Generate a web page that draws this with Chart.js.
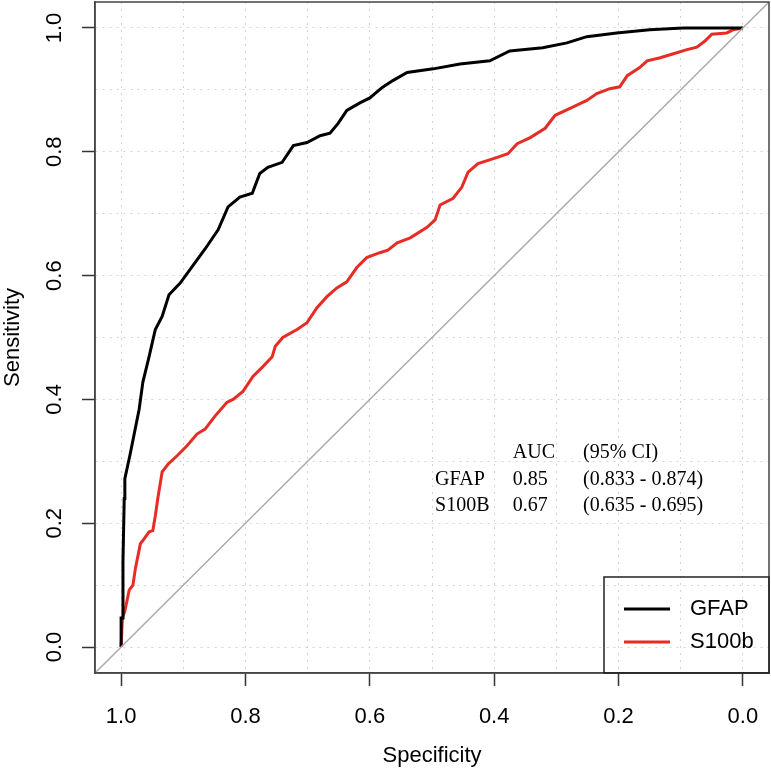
<!DOCTYPE html>
<html>
<head>
<meta charset="utf-8">
<script src="https://cdn.jsdelivr.net/npm/chart.js@4.4.0/dist/chart.umd.min.js"></script>
<style>
body { margin: 0; background: #fff; }
#wrap { width: 771px; height: 773px; }
</style>
</head>
<body>
<div id="wrap"><canvas id="roc" width="771" height="773"></canvas></div>
<script>
// values (specificity, sensitivity)
var gfapSpec = [1.0, 1.0, 0.997, 0.997, 0.995, 0.994, 0.986, 0.971, 0.965, 0.955, 0.945, 0.934, 0.923, 0.905, 0.884, 0.865,
    0.844, 0.828, 0.809, 0.789, 0.777, 0.764, 0.741, 0.723, 0.701, 0.680, 0.664, 0.651, 0.637, 0.616, 0.600, 0.580,
    0.563, 0.540, 0.498, 0.455, 0.407, 0.375, 0.322, 0.283, 0.251, 0.203, 0.150, 0.096, 0.0];
var gfapSens = [0.0, 0.047, 0.047, 0.138, 0.240, 0.272, 0.309, 0.384, 0.428, 0.469, 0.513, 0.534, 0.569, 0.588, 0.617, 0.643,
    0.674, 0.711, 0.727, 0.733, 0.765, 0.775, 0.783, 0.810, 0.815, 0.826, 0.830, 0.846, 0.867, 0.879, 0.887, 0.904,
    0.915, 0.928, 0.934, 0.942, 0.947, 0.963, 0.968, 0.976, 0.986, 0.992, 0.997, 1.0, 1.0];

var s100Spec = [1.0, 0.998, 0.994, 0.987, 0.981, 0.977, 0.969, 0.965, 0.955, 0.949, 0.945, 0.941, 0.934, 0.924, 0.910, 0.894,
    0.878, 0.865, 0.849, 0.830, 0.820, 0.804, 0.788, 0.772, 0.757, 0.752, 0.740, 0.717, 0.701, 0.685, 0.669, 0.653,
    0.637, 0.621, 0.605, 0.584, 0.571, 0.556, 0.535, 0.508, 0.495, 0.487, 0.466, 0.452, 0.442, 0.426, 0.395, 0.378,
    0.363, 0.342, 0.318, 0.302, 0.278, 0.251, 0.235, 0.214, 0.198, 0.186, 0.166, 0.154, 0.133, 0.113, 0.090, 0.074,
    0.061, 0.050, 0.026, 0.016, 0.0];
var s100Sens = [0.0, 0.047, 0.058, 0.092, 0.100, 0.127, 0.167, 0.172, 0.186, 0.188, 0.212, 0.240, 0.283, 0.296, 0.309, 0.325,
    0.344, 0.352, 0.373, 0.395, 0.400, 0.413, 0.437, 0.453, 0.469, 0.486, 0.500, 0.513, 0.524, 0.548, 0.566, 0.580,
    0.590, 0.613, 0.629, 0.637, 0.641, 0.653, 0.661, 0.678, 0.690, 0.714, 0.725, 0.743, 0.767, 0.781, 0.791, 0.797,
    0.813, 0.823, 0.838, 0.859, 0.870, 0.883, 0.894, 0.902, 0.905, 0.923, 0.936, 0.947, 0.952, 0.958, 0.965, 0.969,
    0.979, 0.990, 0.992, 0.997, 1.0];

var seriesNames = ['GFAP', 'S100b'];
var seriesColors = ['#000000', '#e52d25'];
var gridValues = [0, 0.1, 0.2, 0.3, 0.4, 0.5, 0.6, 0.7, 0.8, 0.9, 1.0];
var aucHeader = ['', 'AUC', '(95% CI)'];
var aucRows = [
    ['GFAP', '0.85', '(0.833 - 0.874)'],
    ['S100B', '0.67', '(0.635 - 0.695)']
];

function toPoints(xs, ys) {
    var pts = [];
    for (var i = 0; i < xs.length; i++) {
        pts.push({x: xs[i], y: ys[i]});
    }
    return pts;
}

function isMajor(v) {
    return Math.abs(v * 5 - Math.round(v * 5)) < 1e-6;
}

var sans = "'Liberation Sans', Arial, sans-serif";
var serif = "'Liberation Serif', 'Times New Roman', serif";

var frame = {
    id: 'frame',
    afterDraw: function(chart) {
        var a = chart.chartArea, ctx = chart.ctx;
        ctx.save();
        ctx.strokeStyle = '#444';
        ctx.lineWidth = 1.5;
        ctx.strokeRect(a.left, a.top, a.right - a.left, a.bottom - a.top);
        ctx.restore();
    }
};

var aucTable = {
    id: 'aucTable',
    afterDraw: function(chart) {
        var ctx = chart.ctx, xs = chart.scales.x, ys = chart.scales.y;
        var colX = [0.495, 0.370, 0.257].map(function(v) { return xs.getPixelForValue(v); });
        var rowY = [0.314, 0.271, 0.228].map(function(v) { return ys.getPixelForValue(v); });
        ctx.save();
        ctx.font = '20px ' + serif;
        ctx.fillStyle = '#000';
        ctx.textBaseline = 'middle';
        ctx.textAlign = 'left';
        var rows = [aucHeader].concat(aucRows);
        rows.forEach(function(r, i) {
            r.forEach(function(t, j) { ctx.fillText(t, colX[j], rowY[i]); });
        });
        ctx.restore();
    }
};

var boxLegend = {
    id: 'boxLegend',
    afterDraw: function(chart) {
        var ctx = chart.ctx, a = chart.chartArea;
        var w = 165, h = 96;
        var x0 = a.right - w, y0 = a.bottom - h;
        ctx.save();
        ctx.strokeStyle = '#222';
        ctx.lineWidth = 1.5;
        ctx.strokeRect(x0, y0, w, h);
        ctx.font = '22px ' + sans;
        ctx.textBaseline = 'middle';
        ctx.textAlign = 'left';
        seriesNames.forEach(function(name, i) {
            var y = y0 + 32 + i * 33;
            ctx.strokeStyle = seriesColors[i];
            ctx.lineWidth = 3;
            ctx.beginPath();
            ctx.moveTo(x0 + 20, y);
            ctx.lineTo(x0 + 66, y);
            ctx.stroke();
            ctx.fillStyle = '#000';
            ctx.fillText(name, x0 + 86, y);
        });
        ctx.restore();
    }
};

function gridOpts() {
    return {
        color: '#d4d4d4',
        lineWidth: 1,
        drawTicks: true,
        tickLength: 13,
        tickWidth: 1.5,
        tickBorderDash: [],
        tickColor: function(c) {
            return c.tick && isMajor(c.tick.value) ? '#333' : 'rgba(0,0,0,0)';
        }
    };
}

function setTicks(scale) {
    scale.ticks = gridValues.map(function(v) { return {value: v}; });
}

var ctx = document.getElementById('roc').getContext('2d');
var chart = new Chart(ctx, {
    type: 'line',
    data: {
        datasets: [{
            label: 'diag',
            data: [{x: 1.042, y: -0.042}, {x: -0.042, y: 1.042}],
            borderColor: '#aaaaaa',
            borderWidth: 1.5,
            pointRadius: 0
        }, {
            label: seriesNames[0],
            data: toPoints(gfapSpec, gfapSens),
            borderColor: seriesColors[0],
            borderWidth: 3,
            pointRadius: 0,
            tension: 0
        }, {
            label: seriesNames[1],
            data: toPoints(s100Spec, s100Sens),
            borderColor: seriesColors[1],
            borderWidth: 3,
            pointRadius: 0,
            tension: 0
        }]
    },
    options: {
        responsive: false,
        animation: false,
        layout: {padding: {left: 0, right: 2, top: 2, bottom: 0}},
        plugins: {
            legend: {display: false},
            tooltip: {enabled: false}
        },
        scales: {
            x: {
                type: 'linear',
                reverse: true,
                min: -0.042,
                max: 1.042,
                afterBuildTicks: setTicks,
                afterFit: function(s) {
                    s.height = 100;
                    s.paddingLeft = 0;
                    s.paddingRight = 0;
                },
                grid: gridOpts(),
                border: {display: true, color: '#444', width: 1.5, dash: [2, 5]},
                ticks: {
                    autoSkip: false,
                    maxRotation: 0,
                    padding: 18,
                    color: '#000',
                    font: {family: sans, size: 22},
                    callback: function(v) { return isMajor(v) ? v.toFixed(1) : ''; }
                },
                title: {
                    display: true,
                    text: 'Specificity',
                    color: '#000',
                    font: {family: sans, size: 22},
                    padding: {top: 0, bottom: 4}
                }
            },
            y: {
                type: 'linear',
                min: -0.042,
                max: 1.042,
                afterBuildTicks: setTicks,
                afterFit: function(s) {
                    s.width = 95;
                    s.paddingTop = 0;
                    s.paddingBottom = 0;
                },
                grid: gridOpts(),
                border: {display: true, color: '#444', width: 1.5, dash: [2, 5]},
                ticks: {
                    autoSkip: false,
                    minRotation: 90,
                    maxRotation: 90,
                    crossAlign: 'center',
                    padding: 12,
                    color: '#000',
                    font: {family: sans, size: 22},
                    callback: function(v) { return isMajor(v) ? v.toFixed(1) : ''; }
                },
                title: {
                    display: true,
                    text: 'Sensitivity',
                    color: '#000',
                    font: {family: sans, size: 22},
                    padding: {top: 0, bottom: 0}
                }
            }
        }
    },
    plugins: [frame, aucTable, boxLegend]
});
</script>
</body>
</html>
